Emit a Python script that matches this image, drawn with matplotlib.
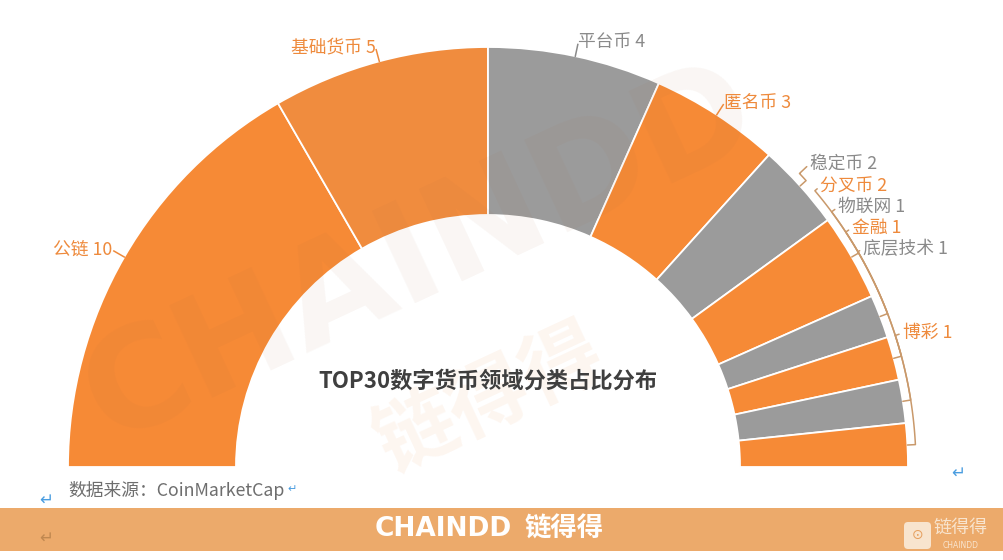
import numpy as np
import matplotlib
matplotlib.use('Agg')
import matplotlib.pyplot as plt
from matplotlib.patches import Rectangle, FancyBboxPatch

plt.rcParams['font.family'] = ['Noto Sans CJK SC', 'DejaVu Sans']

# ---------------- data ----------------
categories = ['公链', '基础货币', '平台币', '匿名币', '稳定币', '分叉币', '物联网', '金融', '底层技术', '博彩']
counts = [10, 5, 4, 3, 2, 2, 1, 1, 1, 1]
title = 'TOP30数字货币领域分类占比分布'
source = '数据来源：CoinMarketCap'

# ---------------- style / layout ----------------
ORANGE = '#F68A36'
ORANGE2 = '#F08C3E'
GRAY = '#9B9B9B'
colors = [ORANGE, ORANGE2, GRAY, ORANGE, GRAY, ORANGE, GRAY, ORANGE, GRAY, ORANGE]
txt_orange = '#EE8A3C'
txt_gray = '#8A8A8A'
label_colors = [txt_gray if c == GRAY else txt_orange for c in colors]
# label placement overrides (angle in degrees, radius in px) for crowded labels
label_override = {4: (43.3, 442), 5: (40.2, 435), 6: (36.6, 436), 7: (33.3, 435.5),
                  8: (30.2, 434), 9: (17.9, 436)}

W, H = 1004, 560
CX, CY = 488, H - 467
R = 420
WIDTH = 168

fig = plt.figure(figsize=(W / 100, H / 100), dpi=100)
ax = fig.add_axes([0, 0, 1, 1])

total = sum(counts)
vals = counts + [total]
wedges, _ = ax.pie(vals, colors=colors + ['white'], startangle=180, counterclock=False,
                   radius=R, center=(CX, CY),
                   wedgeprops=dict(width=WIDTH, edgecolor='white', linewidth=1.3))
wedges[-1].set_visible(False)

ax.set_xlim(0, W)
ax.set_ylim(0, H)
ax.set_aspect('auto')
ax.axis('off')

# faint watermarks
ax.text(420, H - 255, 'CHAINDD', fontsize=100, fontweight='bold', color='#A86A40', alpha=0.06,
        rotation=25, ha='center', va='center', family='DejaVu Sans', zorder=3)
ax.text(490, H - 400, '链得得', fontsize=58, fontweight='bold', color='#F3B585', alpha=0.12,
        rotation=25, ha='center', va='center', zorder=3)

# labels with leader lines
def pt(ang, r):
    a = np.deg2rad(ang)
    return CX + r * np.cos(a), CY + r * np.sin(a)

cum = 0
for i, (cat, v) in enumerate(zip(categories, counts)):
    mid = 180 - (cum + v / 2) / total * 180
    cum += v
    col = label_colors[i]
    if i in label_override:
        la, lr = label_override[i]
        rr = R + 8
        angs = np.linspace(mid, la, 30)
        xs = [pt(mid, R)[0]] + [pt(a, rr)[0] for a in angs] + [pt(la, lr - 4)[0]]
        ys = [pt(mid, R)[1]] + [pt(a, rr)[1] for a in angs] + [pt(la, lr - 4)[1]]
        ax.plot(xs, ys, color='#C9996B', lw=1.1, zorder=4, solid_capstyle='round')
        tx, ty = pt(la, lr)
        ang_used = la
    else:
        x0, y0 = pt(mid, R)
        x1, y1 = pt(mid, R + 12)
        ax.plot([x0, x1], [y0, y1], color=col, lw=1.1, zorder=4)
        tx, ty = pt(mid, R + 14)
        ang_used = mid
    ha = 'left' if np.cos(np.deg2rad(ang_used)) > 0 else 'right'
    ax.text(tx, ty, f'{cat} {v}', color=col, fontsize=12.8, ha=ha, va='center',
            fontweight='medium', zorder=5)

# title
ax.text(CX, H - 381, title, fontsize=16, color='#3F3F3F', ha='center', va='center',
        fontweight='bold', zorder=5)

# source
ax.text(68, H - 490, source, fontsize=12.8, color='#6E6E6E', ha='left', va='center', zorder=5)
ax.text(287, H - 489, '↵', fontsize=8, color='#4A9DE0', ha='left', va='center', family='DejaVu Sans')
ax.text(46, H - 500, '↵', fontsize=12, color='#4A9DE0', ha='center', va='center', family='DejaVu Sans')
ax.text(958, H - 473, '↵', fontsize=12, color='#4A9DE0', ha='center', va='center', family='DejaVu Sans')

# footer bar
ax.add_patch(Rectangle((0, H - 551), W, 43, facecolor='#ECAA6B', edgecolor='none', zorder=2))
ax.text(46, H - 538, '↵', fontsize=12, color='#C08850', ha='center', va='center', family='DejaVu Sans', zorder=3)
ax.text(443, H - 529, 'CHAINDD', fontsize=19, color='white', fontweight='bold', ha='center',
        va='center', family='DejaVu Sans', zorder=3)
ax.text(564, H - 529, '链得得', fontsize=19, color='white', fontweight='bold', ha='center',
        va='center', zorder=3)
ax.add_patch(FancyBboxPatch((904, H - 549), 27, 27, boxstyle='round,pad=0,rounding_size=4',
                            facecolor='#F8E4CE', edgecolor='none', zorder=3))
ax.text(917.5, H - 535, '⊙', fontsize=10, color='#E6A060', ha='center', va='center',
        family='DejaVu Sans', zorder=4)
ax.text(961, H - 528, '链得得', fontsize=13, color='#F8E4CE', ha='center', va='center', zorder=3)
ax.text(961, H - 546, 'CHAINDD', fontsize=5.5, color='#F8E4CE', ha='center', va='center',
        family='DejaVu Sans', zorder=3)

fig.savefig('out.png', dpi=100, facecolor='white')
